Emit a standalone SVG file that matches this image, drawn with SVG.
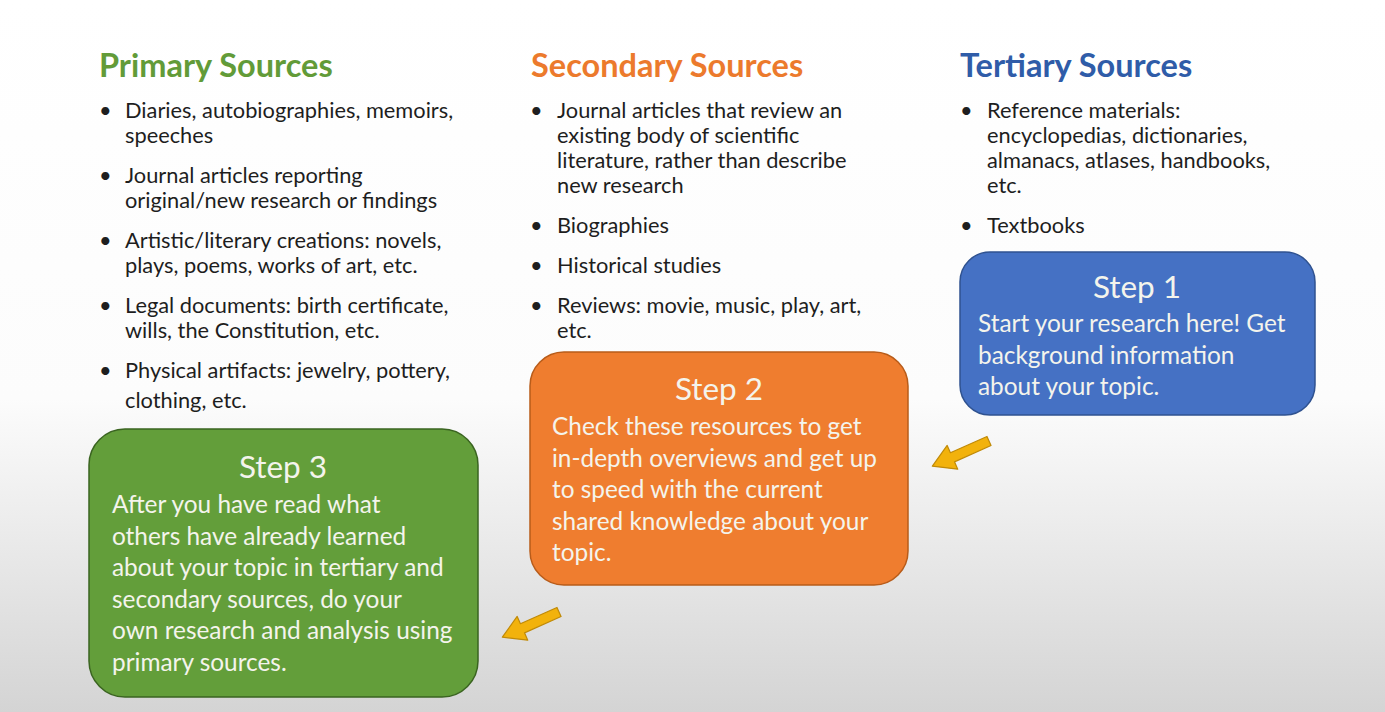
<svg xmlns="http://www.w3.org/2000/svg" width="1385" height="712" viewBox="0 0 1385 712">
  <defs>
    <linearGradient id="bg" x1="0" y1="0" x2="0" y2="1">
      <stop offset="0" stop-color="#ffffff"/>
      <stop offset="0.56" stop-color="#fcfcfc"/>
      <stop offset="1" stop-color="#d4d4d4"/>
    </linearGradient>
    <path id="arrowShape" d="M0,-5 L40,-5 L40,-13 L62,0 L40,13 L40,5 L0,5 Z"/>
  </defs>
  <style>
    .title { font-family: Lato, "Open Sans", sans-serif; font-weight: 700; font-size: 32.5px; }
    .body { font-family: Lato, "Open Sans", sans-serif; font-size: 21.8px; fill: #1e1e1e; }
    .stepTitle { font-family: Lato, "Open Sans", sans-serif; font-size: 31.5px; fill: #f4f4ec; text-anchor: middle; }
    .stepBody { font-family: Lato, "Open Sans", sans-serif; font-size: 24.4px; fill: #f4f4ec; }
    .arrow { fill: #f2b20c; stroke: #c08a08; stroke-width: 1.2; stroke-linejoin: round; }
  </style>

  <rect x="0" y="0" width="1385" height="712" fill="url(#bg)"/>

  <!-- Primary column -->
  <g id="primary">
    <text class="title" x="99" y="77" fill="#629b38">Primary Sources</text>
    <g class="body" transform="translate(0,1)">
      <text x="99" y="117">•</text>
      <text x="125" y="117">Diaries, autobiographies, memoirs,</text>
      <text x="125" y="142">speeches</text>
      <text x="99" y="182">•</text>
      <text x="125" y="182">Journal articles reporting</text>
      <text x="125" y="207">original/new research or findings</text>
      <text x="99" y="247">•</text>
      <text x="125" y="247">Artistic/literary creations:  novels,</text>
      <text x="125" y="272">plays, poems, works of art, etc.</text>
      <text x="99" y="312">•</text>
      <text x="125" y="312">Legal documents: birth certificate,</text>
      <text x="125" y="337">wills, the Constitution, etc.</text>
      <text x="99" y="377">•</text>
      <text x="125" y="377">Physical artifacts: jewelry, pottery,</text>
      <text x="125" y="407">clothing, etc.</text>
    </g>
  </g>

  <!-- Secondary column -->
  <g id="secondary">
    <text class="title" x="531" y="77" fill="#ec7a2c">Secondary Sources</text>
    <g class="body" transform="translate(0,1)">
      <text x="530" y="117">•</text>
      <text x="557" y="117">Journal articles that review an</text>
      <text x="557" y="142">existing body of scientific</text>
      <text x="557" y="167">literature, rather than describe</text>
      <text x="557" y="192">new research</text>
      <text x="530" y="232">•</text>
      <text x="557" y="232">Biographies</text>
      <text x="530" y="272">•</text>
      <text x="557" y="272">Historical studies</text>
      <text x="530" y="312">•</text>
      <text x="557" y="312">Reviews: movie, music, play, art,</text>
      <text x="557" y="337">etc.</text>
    </g>
  </g>

  <!-- Tertiary column -->
  <g id="tertiary">
    <text class="title" x="960" y="77" fill="#2f5ca8">Tertiary Sources</text>
    <g class="body" transform="translate(0,1)">
      <text x="960" y="117">•</text>
      <text x="987" y="117">Reference materials:</text>
      <text x="987" y="142">encyclopedias, dictionaries,</text>
      <text x="987" y="167">almanacs, atlases, handbooks,</text>
      <text x="987" y="192">etc.</text>
      <text x="960" y="232">•</text>
      <text x="987" y="232">Textbooks</text>
    </g>
  </g>

  <!-- Step 1 -->
  <g id="step1">
    <rect x="960" y="252" width="355" height="163" rx="30" fill="#4571c4" stroke="#2f5290" stroke-width="1.5"/>
    <text class="stepTitle" x="1137" y="298">Step 1</text>
    <text class="stepBody" x="978" y="332">Start your research here! Get</text>
    <text class="stepBody" x="978" y="364">background information</text>
    <text class="stepBody" x="978" y="395">about your topic.</text>
  </g>

  <!-- Step 2 -->
  <g id="step2">
    <rect x="530" y="352" width="378" height="233" rx="34" fill="#ef7d2f" stroke="#b85c1a" stroke-width="1.5"/>
    <text class="stepTitle" x="719" y="400">Step 2</text>
    <text class="stepBody" x="552" y="435">Check these resources to get</text>
    <text class="stepBody" x="552" y="467">in-depth overviews and get up</text>
    <text class="stepBody" x="552" y="498">to speed with the current</text>
    <text class="stepBody" x="552" y="530">shared knowledge about your</text>
    <text class="stepBody" x="552" y="561">topic.</text>
  </g>

  <!-- Step 3 -->
  <g id="step3">
    <rect x="89" y="429" width="389" height="268" rx="36" fill="#639e3a" stroke="#3a6420" stroke-width="1.5"/>
    <text class="stepTitle" x="283" y="478" fill="#eef3e4">Step 3</text>
    <text class="stepBody" x="112" y="513">After you have read what</text>
    <text class="stepBody" x="112" y="545">others have already learned</text>
    <text class="stepBody" x="112" y="576">about your topic in tertiary and</text>
    <text class="stepBody" x="112" y="608">secondary sources, do your</text>
    <text class="stepBody" x="112" y="639">own research and analysis using</text>
    <text class="stepBody" x="112" y="671">primary sources.</text>
  </g>

  <!-- Connectors -->
  <g id="connectors">
    <use href="#arrowShape" class="arrow" transform="translate(989,441) rotate(156)"/>
    <use href="#arrowShape" class="arrow" transform="translate(559,612) rotate(156)"/>
  </g>
</svg>
